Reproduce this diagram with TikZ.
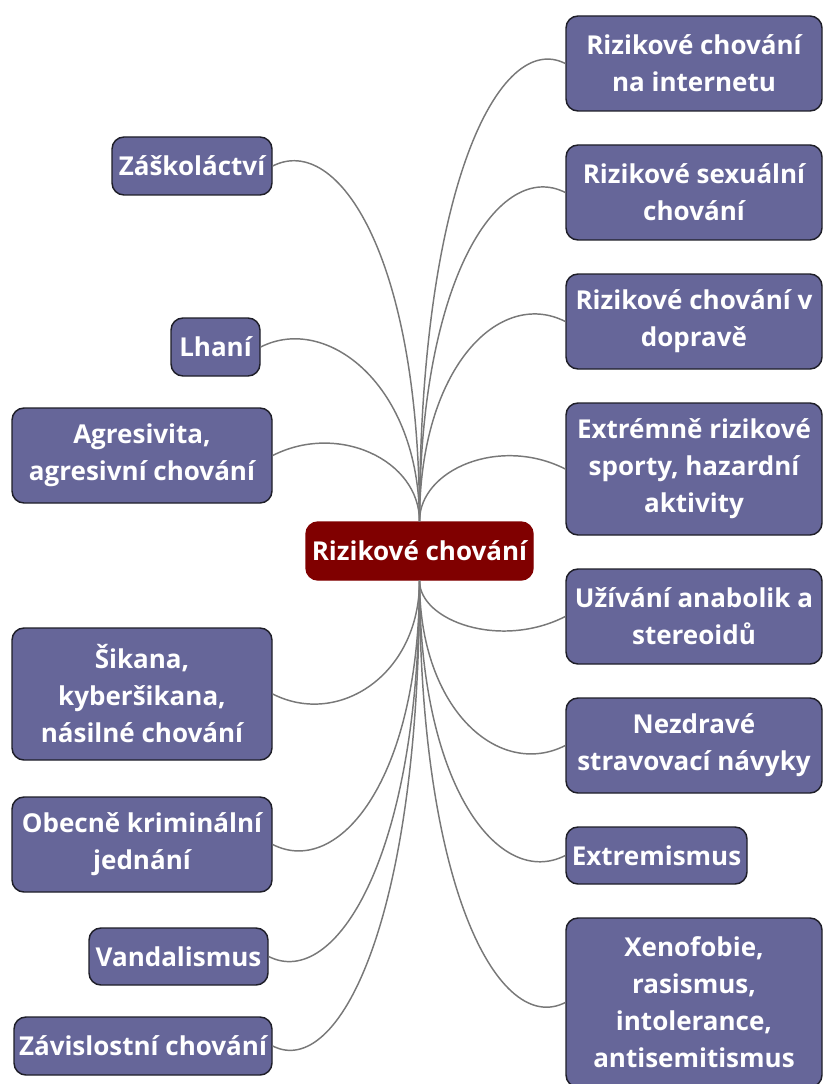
\documentclass[tikz,border=0pt]{standalone}
\usepackage{fontspec}
\setmainfont{Open Sans}
\definecolor{topicfill}{RGB}{102,102,153}
\definecolor{topicline}{RGB}{30,30,40}
\definecolor{rootfill}{RGB}{128,0,0}
\definecolor{branchline}{RGB}{120,120,120}
\begin{document}
\begin{tikzpicture}[x=0.75pt,y=-0.75pt,
  topic/.style={draw=topicline,line width=1.1pt,fill=topicfill,rounded corners=9pt,
    text=white,align=center,inner sep=0pt,font=\bfseries\fontsize{19.5}{27.75}\selectfont},
  rootnode/.style={topic,draw=rootfill,fill=rootfill},
  branch/.style={draw=branchline,line width=1.1pt}]
\useasboundingbox (0,0) rectangle (822,1084);

%Shape: Root
\node[rootnode,minimum width=170.25pt,minimum height=43.5pt] (root) at (419.5,551) {Rizikové chování};

%Shape: Right topics
\node[topic,minimum width=192pt,minimum height=71.25pt] (r1) at (694,63.5) {Rizikové chování\\na internetu};
\node[topic,minimum width=192pt,minimum height=71.25pt] (r2) at (694,192.5) {Rizikové sexuální\\chování};
\node[topic,minimum width=192pt,minimum height=71.25pt] (r3) at (694,321.5) {Rizikové chování v\\dopravě};
\node[topic,minimum width=192pt,minimum height=99pt] (r4) at (694,469) {Extrémně rizikové\\sporty, hazardní\\aktivity};
\node[topic,minimum width=192pt,minimum height=71.25pt] (r5) at (694,616.5) {Užívání anabolik a\\stereoidů};
\node[topic,minimum width=192pt,minimum height=71.25pt] (r6) at (694,745.5) {Nezdravé\\stravovací návyky};
\node[topic,minimum width=135.75pt,minimum height=42.75pt] (r7) at (656.5,855.5) {Extremismus};
\node[topic,minimum width=192pt,minimum height=126.75pt] (r8) at (694,1002.5) {Xenofobie,\\rasismus,\\intolerance,\\antisemitismus};

%Shape: Left topics
\node[topic,minimum width=120pt,minimum height=43.5pt] (l1) at (192,166) {Záškoláctví};
\node[topic,minimum width=66.75pt,minimum height=43.5pt] (l2) at (215.5,347) {Lhaní};
\node[topic,minimum width=195pt,minimum height=71.25pt] (l3) at (142,455.5) {Agresivita,\\agresivní chování};
\node[topic,minimum width=195pt,minimum height=99pt] (l4) at (142,694) {Šikana,\\kyberšikana,\\násilné chování};
\node[topic,minimum width=195pt,minimum height=71.25pt] (l5) at (142,844.5) {Obecně kriminální\\jednání};
\node[topic,minimum width=134.25pt,minimum height=42.75pt] (l6) at (178.5,956.5) {Vandalismus};
\node[topic,minimum width=193.5pt,minimum height=43.5pt] (l7) at (143,1046) {Závislostní chování};

%Curves: upper branches
\draw[branch] (root.north) to[out=90,in=153,out distance=252pt,in distance=55pt] (r1.west);
\draw[branch] (root.north) to[out=90,in=153,out distance=184pt,in distance=55pt] (r2.west);
\draw[branch] (root.north) to[out=90,in=153,out distance=116pt,in distance=55pt] (r3.west);
\draw[branch] (root.north) to[out=90,in=153,out distance=39pt,in distance=55pt] (r4.west);
\draw[branch] (root.north) to[out=90,in=27,out distance=198pt,in distance=55pt] (l1.east);
\draw[branch] (root.north) to[out=90,in=27,out distance=103pt,in distance=55pt] (l2.east);
\draw[branch] (root.north) to[out=90,in=27,out distance=46pt,in distance=55pt] (l3.east);
%Curves: lower branches
\draw[branch] (root.south) to[out=-90,in=-153,out distance=30pt,in distance=55pt] (r5.west);
\draw[branch] (root.south) to[out=-90,in=-153,out distance=98pt,in distance=55pt] (r6.west);
\draw[branch] (root.south) to[out=-90,in=-153,out distance=156pt,in distance=55pt] (r7.west);
\draw[branch] (root.south) to[out=-90,in=-153,out distance=233pt,in distance=55pt] (r8.west);
\draw[branch] (root.south) to[out=-90,in=-27,out distance=71pt,in distance=55pt] (l4.east);
\draw[branch] (root.south) to[out=-90,in=-27,out distance=150pt,in distance=55pt] (l5.east);
\draw[branch] (root.south) to[out=-90,in=-27,out distance=209pt,in distance=55pt] (l6.east);
\draw[branch] (root.south) to[out=-90,in=-27,out distance=256pt,in distance=55pt] (l7.east);
\end{tikzpicture}
\end{document}
